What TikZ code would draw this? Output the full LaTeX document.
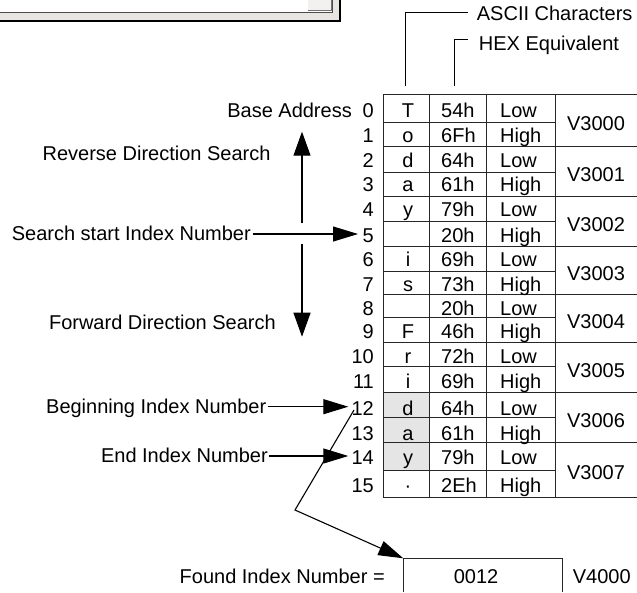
\documentclass[tikz,border=0pt]{standalone}
\usepackage{fontspec}
\setmainfont{Liberation Sans}
\usetikzlibrary{arrows.meta}
\definecolor{dlggray}{RGB}{232,230,227}
\definecolor{btngray}{RGB}{242,241,239}
\definecolor{cellgray}{RGB}{229,229,229}
\begin{document}
\begin{tikzpicture}[x=1pt,y=-1pt,
  txt/.style={inner sep=0pt, font=\fontsize{20}{24}\selectfont},
  ln/.style={line width=0.9pt, draw=black},
  grid/.style={line width=0.9pt, draw=black!85},
  harrow/.style={line width=1.1pt, -{Triangle[length=25pt,width=15pt]}},
  varrow/.style={line width=1.1pt, -{Triangle[length=24pt,width=17pt]}},
]
\useasboundingbox (0,0) rectangle (637,592);

% dialog fragment (top left)
\fill[dlggray] (0,0) rectangle (340,21);
\fill[white] (0,0) rectangle (332,12);
\draw[black!70, line width=1pt] (0,12) -- (332,12) -- (332,0);
\fill[btngray] (308,0) rectangle (331,10.5);
\draw[black!55, line width=1pt] (308,10.5) -- (331,10.5) -- (331,0);
\draw[black, line width=1.3pt] (0,21) -- (340,21) -- (340,0);

% shaded cells
\fill[cellgray] (383.5,392.7) rectangle (429,470);

% table grid
\foreach \y [count=\i from 0] in {94.3,122.7,146.7,172,196.7,221.7,246.7,271.7,294,317.7,342.7,366.7,392.7,417.7,442.7,470,497.7} {
  \ifodd\i
    \draw[grid] (383.5,\y) -- (555.3,\y);
  \else
    \draw[grid] (383.5,\y) -- (637,\y);
  \fi
}
\foreach \x in {383.5,429,486,555.3} \draw[grid] (\x,94.3) -- (\x,497.7);

% table contents
\foreach \c/\h/\bl [count=\i from 0] in {T/54h/117.3,o/6Fh/142.7,d/64h/167.3,a/61h/191.7,y/79h/216.7,{}/20h/242.7,i/69h/266.7,s/73h/291,{}/20h/315,F/46h/338.3,r/72h/363.3,i/69h/388.3,d/64h/415.5,a/61h/440,y/79h/464.5,·/2Eh/492.7} {
  \node[txt, anchor=base east] (n\i) at (374,\bl) {\i};
  \node[txt, anchor=base] (c\i) at (408,\bl) {\c};
  \node[txt, anchor=base west] (h\i) at (441,\bl) {\h};
  \ifodd\i
    \node[txt, anchor=base west] (lh\i) at (500,\bl) {High};
  \else
    \node[txt, anchor=base west] (lh\i) at (500,\bl) {Low};
  \fi
}
\foreach \v/\cy in {3000/120.5,3001/171.7,3002/221.7,3003/270.3,3004/318.3,3005/367.7,3006/417.7,3007/470}
  \node[txt, anchor=base] (v\v) at (596,\cy+9.7) {V\v};

% top labels
\node[txt, anchor=base west] (ascii) at (476.7,20) {ASCII Characters};
\node[txt, anchor=base west] (hex) at (478.7,50) {HEX Equivalent};
\coordinate (asciiend) at (468.3,12.7);
\coordinate (asciifoot) at (405.3,86);
\coordinate (hexend) at (468.3,39.3);
\coordinate (hexfoot) at (454,86);
\draw[ln] (asciifoot) |- (asciiend);
\draw[ln] (hexfoot) |- (hexend);

% left labels
\node[txt, anchor=base east] (base) at (352,117.3) {Base Address};
\node[txt, anchor=base east] (rev) at (270.7,160) {Reverse Direction Search};
\node[txt, anchor=base east] (sstart) at (251,240.5) {Search start Index Number};
\node[txt, anchor=base east] (fwd) at (276,329) {Forward Direction Search};
\node[txt, anchor=base east] (begin) at (266.5,413.3) {Beginning Index Number};
\node[txt, anchor=base east] (endn) at (268,462.7) {End Index Number};
\node[txt, anchor=base east] (found) at (385,583.3) {Found Index Number =};

% search direction arrows
\coordinate (upfrom) at (302,223.3);
\coordinate (upto) at (302,131.7);
\coordinate (dnfrom) at (302,244);
\coordinate (dnto) at (302,336.7);
\draw[varrow] (upfrom) -- (upto);
\draw[varrow] (dnfrom) -- (dnto);

\coordinate (tip5) at (358,234);
\draw[harrow] ([xshift=1.5pt]sstart.east |- tip5) -- (tip5);
\coordinate (tip12) at (348.3,406.7);
\draw[harrow] ([xshift=1pt]begin.east |- tip12) -- (tip12);
\coordinate (tip14) at (348.3,456);
\draw[harrow] ([xshift=1pt]endn.east |- tip14) -- (tip14);

% found box
\coordinate (fbnw) at (403.3,558.3);
\coordinate (fbne) at (562.3,558.3);
\coordinate (fbsw) at (403.3,592);
\coordinate (fbse) at (562.3,592);
\draw[grid] (fbsw) -- (fbnw) -- (fbne) -- (fbse);
\node[txt, anchor=base] (fval) at (476,583.3) {0012};
\node[txt, anchor=base west] (v4000) at (572.7,583.3) {V4000};

% result arrow
\coordinate (zz1) at (354,410);
\coordinate (zz2) at (295,510);
\draw[harrow] (zz1) -- (zz2) -- (fbnw);
\end{tikzpicture}
\end{document}
